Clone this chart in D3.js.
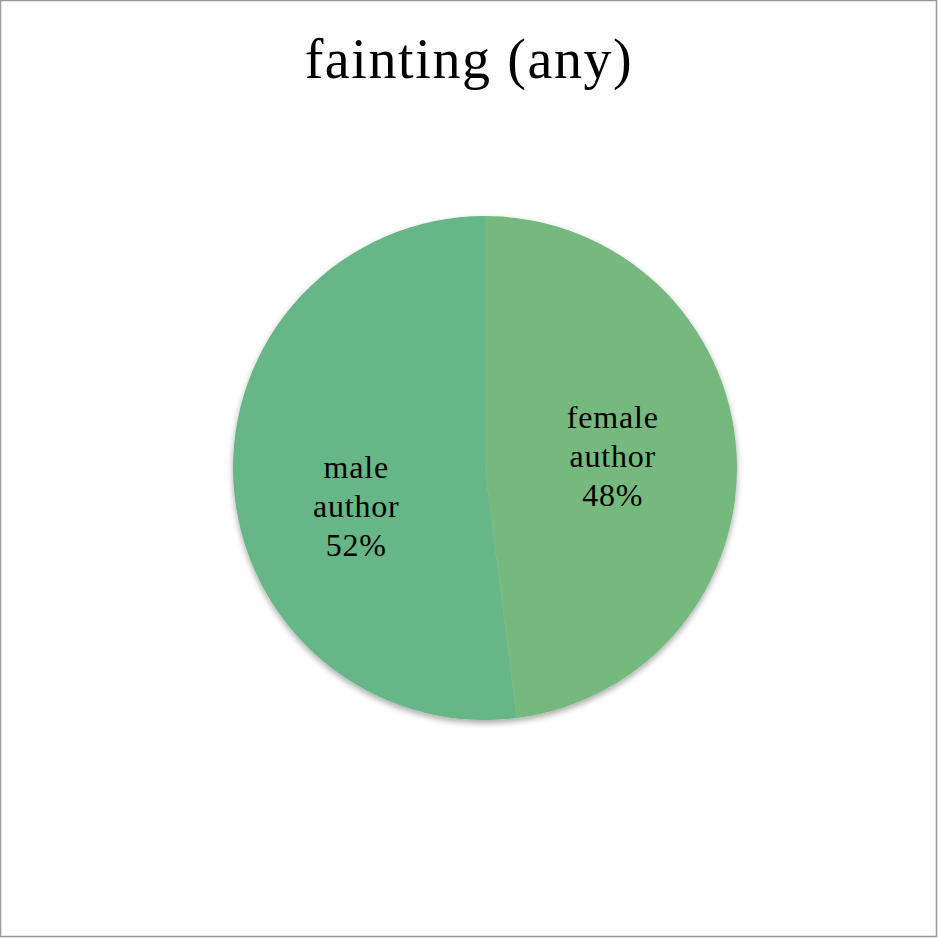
<!DOCTYPE html>
<html><head><meta charset="utf-8">
<script src="https://cdn.jsdelivr.net/npm/d3@7"></script>
<style>body{margin:0;background:#fff}svg{display:block}</style>
</head><body>
<script>
const categories = ["female author", "male author"];
const values = [48, 52];
const colors = ["#74b97f", "#66b687"];
const title = "fainting (any)";

const W = 938, H = 938;
const svg = d3.select("body").append("svg").attr("width", W).attr("height", H);
svg.append("rect").attr("x", 0.5).attr("y", 0.5).attr("width", W - 2).attr("height", H - 2)
  .attr("fill", "#fff").attr("stroke", "#999").attr("stroke-width", 1.5);

const font = "'Liberation Serif', 'DejaVu Serif', serif";
svg.append("text").attr("x", 469).attr("y", 78).attr("text-anchor", "middle")
  .attr("font-family", font).attr("font-size", 56).attr("letter-spacing", 1.6)
  .attr("fill", "#000").text(title);

const cx = 485, cy = 468, r = 252;
const defs = svg.append("defs");
const f = defs.append("filter").attr("id", "sh").attr("x", "-10%").attr("y", "-10%").attr("width", "120%").attr("height", "125%");
f.append("feGaussianBlur").attr("in", "SourceAlpha").attr("stdDeviation", 3);
f.append("feOffset").attr("dx", 0).attr("dy", 3).attr("result", "b");
f.append("feComponentTransfer").append("feFuncA").attr("type", "linear").attr("slope", 0.35);
const m = f.append("feMerge"); m.append("feMergeNode"); m.append("feMergeNode").attr("in", "SourceGraphic");

const g = svg.append("g").attr("transform", `translate(${cx},${cy})`);
const pie = d3.pie().sort(null).value(d => d)(values);
const arc = d3.arc().innerRadius(0).outerRadius(r);
g.append("g").attr("filter", "url(#sh)").selectAll("path").data(pie).join("path")
  .attr("d", arc).attr("fill", (d, i) => colors[i]);

const labelArc = d3.arc().innerRadius(r * 0.5).outerRadius(r * 0.5);
const nudge = [[2, 7], [-3, 41]];
const total = d3.sum(values);
pie.forEach((d, i) => {
  const [lx0, ly0] = labelArc.centroid(d);
  const lx = lx0 + nudge[i][0], ly = ly0 + nudge[i][1];
  const words = categories[i].split(" ").concat([Math.round(values[i] / total * 100) + "%"]);
  const t = g.append("text").attr("text-anchor", "middle").attr("font-family", font)
    .attr("font-size", 32).attr("letter-spacing", 0.8).attr("fill", "#000");
  words.forEach((w, j) => {
    t.append("tspan").attr("x", lx).attr("y", ly + (j - 1) * 39).text(w);
  });
});
</script>
</body></html>
